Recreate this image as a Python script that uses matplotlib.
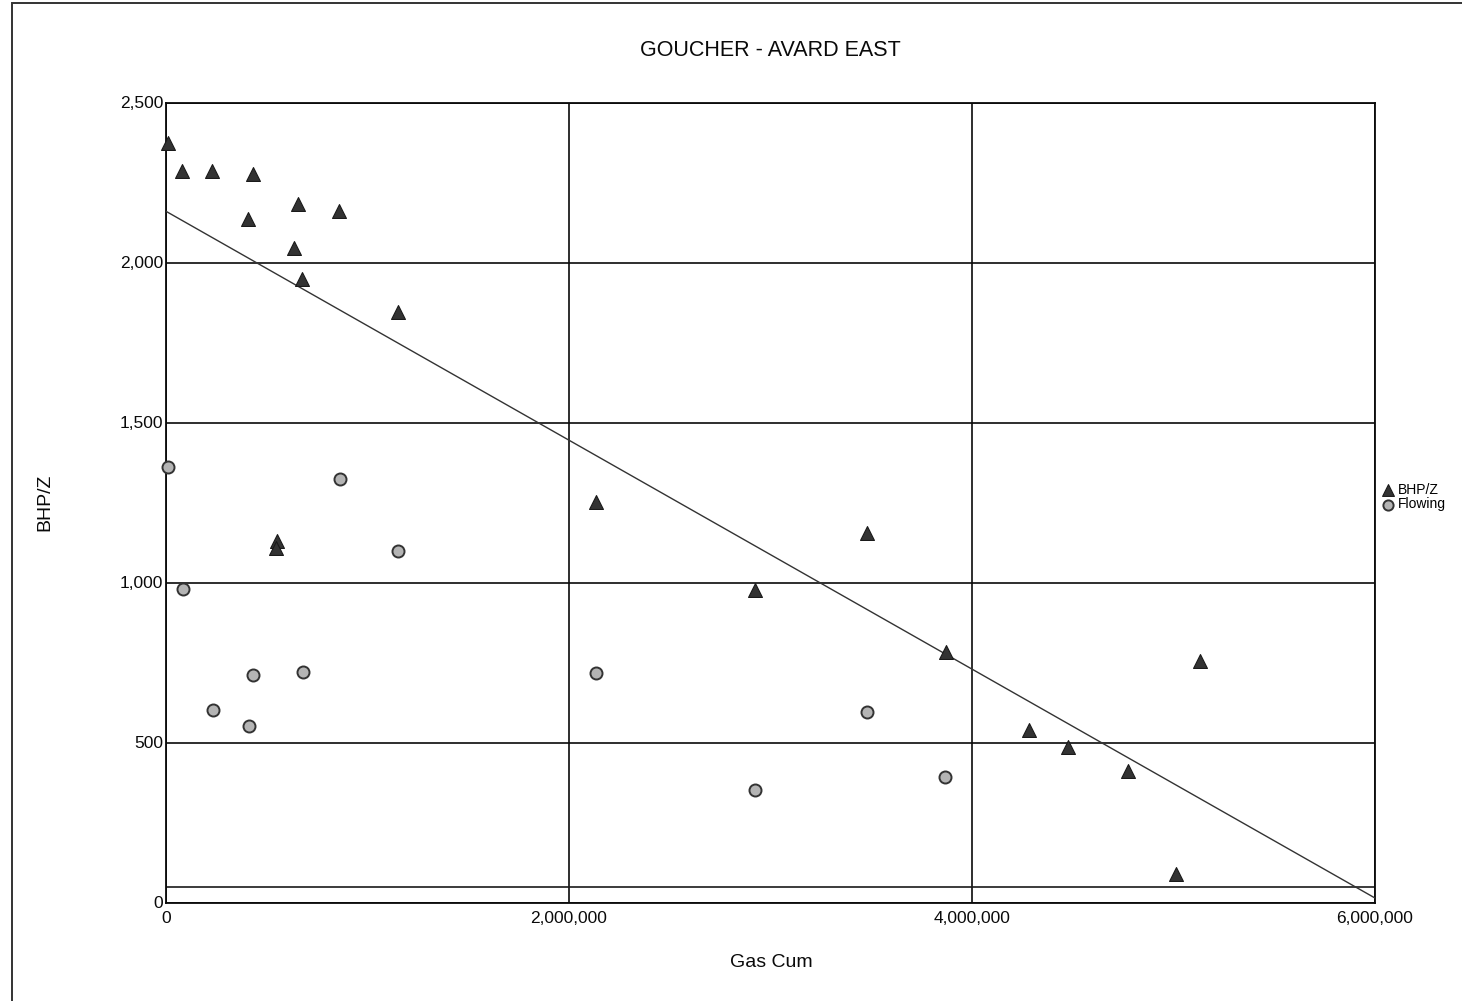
import numpy as np
import matplotlib
matplotlib.use("Agg")
import matplotlib.pyplot as plt
from matplotlib.patches import Rectangle
from matplotlib.ticker import FuncFormatter

plt.rcParams['font.family'] = ['Liberation Sans', 'DejaVu Sans']

# cumulative gas (mcf) and pressures per test
bhpz_cum = [10000, 81000, 228000, 430000, 408000, 637000, 654000, 677000, 860000,
            1153000, 549000, 545000, 2134000, 2923000, 3479000, 3869000, 4284000,
            4475000, 4773000, 5012000, 5131000]
bhpz = [2372, 2287, 2287, 2276, 2135, 2044, 2183, 1948, 2161,
        1844, 1130, 1108, 1252, 977, 1155, 784, 539,
        487, 412, 89, 755]

flow_cum = [11000, 83000, 235000, 413000, 433000, 678000, 864000, 1153000,
            2134000, 2923000, 3479000, 3866000]
flowing = [1362, 980, 602, 553, 711, 721, 1323, 1099,
           717, 352, 595, 392]

# straight-line fit through BHP/Z
trend_x = [0, 6000000]
trend_y = [2160, 14]
abandon_p = 50

x_ticks = [0, 2000000, 4000000, 6000000]
y_ticks = [0, 500, 1000, 1500, 2000, 2500]

fig = plt.figure(figsize=(14.62, 10.01), dpi=100)
ax = fig.add_axes([166/1462, 1-902.5/1001, 1209/1462, 800/1001])

ax.plot(trend_x, trend_y, color='#333333', lw=1.0, zorder=3)
ax.axhline(abandon_p, color='#1a1a1a', lw=1.2, zorder=2)

ax.scatter(bhpz_cum, bhpz, marker='^', s=100, color='#333333',
           edgecolors='#1a1a1a', linewidths=0.8, zorder=4, clip_on=False,
           label='BHP/Z')
ax.scatter(flow_cum, flowing, marker='o', s=75, color='#b4b4b4',
           edgecolors='#333333', linewidths=1.4, zorder=4, clip_on=False,
           label='Flowing')

ax.set_xlim(0, 6000000)
ax.set_ylim(0, 2500)
ax.set_xticks(x_ticks)
ax.set_yticks(y_ticks)
ax.xaxis.set_major_formatter(FuncFormatter(lambda v, p: f"{int(v):,}"))
ax.yaxis.set_major_formatter(FuncFormatter(lambda v, p: f"{int(v):,}"))
ax.tick_params(length=0, labelsize=12.5, colors='#0a0a0a')
ax.tick_params(axis='y', pad=2)
ax.tick_params(axis='x', pad=6)
ax.grid(True, color='#0a0a0a', lw=1.2)
ax.set_axisbelow(True)
for sp in ax.spines.values():
    sp.set_color('#0a0a0a')
    sp.set_linewidth(1.3)

ax.set_xlabel('Gas Cum', fontsize=14, color='#0a0a0a')
ax.xaxis.set_label_coords(0.501, -0.064)
ax.set_ylabel('BHP/Z', fontsize=14, color='#0a0a0a')
ax.yaxis.set_label_coords(-0.093, 0.5)

fig.text(770/1462, 1-51/1001, 'GOUCHER - AVARD EAST', fontsize=15.5,
         ha='center', va='center', color='#0a0a0a')

fig.legend(loc='center left', bbox_to_anchor=(1377/1462, 1-497/1001),
           frameon=False, fontsize=10, handlelength=0.6, handletextpad=0.4,
           labelspacing=0.05, borderpad=0, markerscale=0.85)

# page border
fig.patches.append(Rectangle((12/1462, -0.1), 1.2, 1.1 - 3/1001, fill=False,
                             edgecolor='#333333', lw=1.4,
                             transform=fig.transFigure, figure=fig))

fig.savefig('out.png', dpi=100, facecolor='white')
